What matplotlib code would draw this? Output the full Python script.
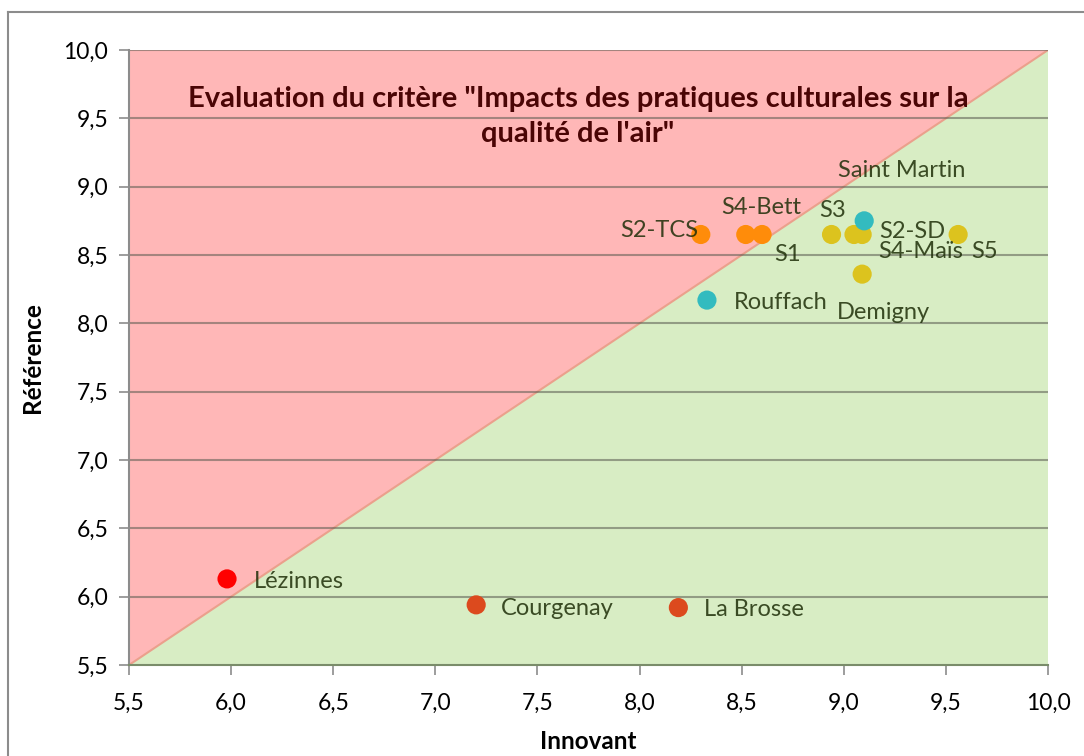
import matplotlib
matplotlib.use("Agg")
import matplotlib.pyplot as plt
from matplotlib.patches import Polygon
from matplotlib.lines import Line2D

plt.rcParams['font.family'] = ['Lato', 'DejaVu Sans']

# Data
names = ["S2-TCS", "S4-Bett", "S1", "S3", "S2-SD", "S4-Maïs", "S5",
         "Saint Martin", "Demigny", "Rouffach", "Lézinnes", "Courgenay", "La Brosse"]
innovant = [8.30, 8.52, 8.60, 8.94, 9.05, 9.09, 9.56, 9.10, 9.09, 8.33, 5.98, 7.20, 8.19]
reference = [8.65, 8.65, 8.65, 8.65, 8.65, 8.65, 8.65, 8.75, 8.36, 8.17, 6.13, 5.94, 5.92]
colors = ["#FF8C0A", "#FF8C0A", "#FF8C0A", "#DCC31E", "#DCC31E", "#DCC31E", "#DCC31E",
          "#33BBBF", "#DCC31E", "#33BBBF", "#FF0000", "#DC4A1E", "#DC4A1E"]
# label offsets in pixels (dx, dy) and horizontal alignment
label_pos = [(-2, 4, "right"), (15, 27, "center"), (25, -20, "center"), (1, 24, "center"),
             (25, 3, "left"), (16, -17, "left"), (13, -17, "left"),
             (-26, 50, "left"), (-25, -38, "left"), (27, -2, "left"),
             (27, -3, "left"), (25, -4, "left"), (26, -2, "left")]
ticks = [5.5, 6.0, 6.5, 7.0, 7.5, 8.0, 8.5, 9.0, 9.5, 10.0]
tick_labels = ["5,5", "6,0", "6,5", "7,0", "7,5", "8,0", "8,5", "9,0", "9,5", "10,0"]
title = "Evaluation du critère \"Impacts des pratiques culturales sur la\nqualité de l'air\""

fig = plt.figure(figsize=(10.84, 7.56), dpi=100)
W, H = 1084, 756
ax = fig.add_axes([129 / W, 1 - 665 / H, (1048 - 129) / W, (665 - 50) / H])
lo, hi = ticks[0], ticks[-1]
ax.set_xlim(lo, hi)
ax.set_ylim(lo, hi)

ax.add_patch(Polygon([(lo, lo), (lo, hi), (hi, hi)], closed=True, facecolor="#FFB7B7",
                     edgecolor="none", zorder=0))
ax.add_patch(Polygon([(lo, lo), (hi, lo), (hi, hi)], closed=True, facecolor="#D8EDC4",
                     edgecolor="none", zorder=0))
ax.plot([lo, hi], [lo, hi], color="#EBA08C", lw=1.5, zorder=1)

for t in ticks[1:]:
    ax.axhline(t, color="#5A5A50", alpha=0.55, lw=1.5, zorder=2)

ax.scatter(innovant, reference, s=190, c=colors, edgecolors="none", zorder=4)
for n, x, y, (dx, dy, ha) in zip(names, innovant, reference, label_pos):
    ax.annotate(n, (x, y), xytext=(dx, dy), textcoords="offset pixels", ha=ha,
                va="center", fontsize=17, color="#1E2E08", alpha=0.85, zorder=5)

ax.text(0.4886, 0.892, title, transform=ax.transAxes, ha="center", va="center",
        fontsize=21, fontweight="bold", color="#4A0505", linespacing=1.4, zorder=6)

ax.set_xticks(ticks)
ax.set_yticks(ticks)
ax.set_xticklabels(tick_labels)
ax.set_yticklabels(tick_labels)
ax.tick_params(direction="out", length=7, width=1.2, color="#8C8C8C", labelsize=16.5,
               labelcolor="#000000", pad=13)
ax.tick_params(axis="y", pad=8)
for s in ["top", "right"]:
    ax.spines[s].set_visible(False)
ax.spines["left"].set_color("#8C8C8C")
ax.spines["bottom"].set_color("#7A8C6A")
ax.spines["left"].set_linewidth(1.5)
ax.spines["bottom"].set_linewidth(1.5)

ax.set_xlabel("Innovant", fontsize=17.5, fontweight="bold", labelpad=12)
ax.set_ylabel("Référence", fontsize=17.5, fontweight="bold", labelpad=14)

# outer chart border
fig.add_artist(Line2D([8 / W, 8 / W], [0, 1 - 12 / H], color="#8C8C8C", lw=1.5,
                      transform=fig.transFigure))
fig.add_artist(Line2D([8 / W, 1], [1 - 12 / H, 1 - 12 / H], color="#8C8C8C", lw=1.5,
                      transform=fig.transFigure))

fig.savefig("out.png", dpi=100)
